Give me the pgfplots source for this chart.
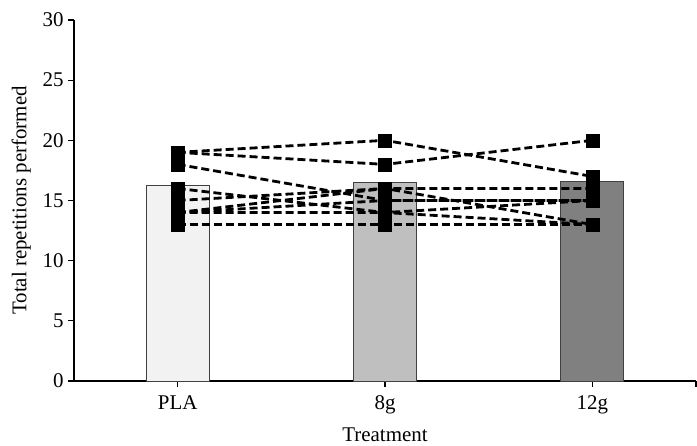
\documentclass[border=0pt]{standalone}
\usepackage{pgfplots}
\pgfplotsset{compat=1.18}
\usepackage{fontspec}
\setmainfont{Liberation Serif}

\definecolor{barPLA}{HTML}{F2F2F2}
\definecolor{barEight}{HTML}{BFBFBF}
\definecolor{barTwelve}{HTML}{808080}
\definecolor{barEdge}{HTML}{404040}

\begin{document}
\begin{tikzpicture}
\begin{axis}[
  at={(0,0)}, anchor=south west,
  scale only axis,
  width=622bp, height=361bp,
  xmin=-0.5, xmax=2.5,
  ymin=0, ymax=30,
  axis lines*=left,
  axis line style={line width=1.2pt},
  xtick={0,1,2},
  xticklabels={PLA,8g,12g},
  extra x ticks={2.5},
  extra x tick labels={},
  ytick={0,5,...,30},
  tick align=outside,
  tick style={black, line width=1.2pt},
  major tick length=6bp,
  /pgf/number format/assume math mode=true,
  ticklabel style={font=\fontsize{21}{25}\selectfont},
  label style={font=\fontsize{21}{25}\selectfont},
  xlabel={Treatment},
  ylabel={Total repetitions performed},
  xticklabel style={yshift=-5bp},
  yticklabel style={xshift=-1bp},
  xlabel style={yshift=5bp},
  ylabel style={yshift=5bp},
  clip=false,
]
% group means
\addplot[ybar, bar width=63bp, bar shift=0pt, fill=barPLA, draw=barEdge, line width=0.8pt,
  error bars/.cd, y dir=minus, y explicit, error bar style={gray, line width=0.8pt}, error mark options={rotate=90, mark size=4bp, gray}]
  coordinates {(0,16.25) -= (0,2.3)};
\addplot[ybar, bar width=63bp, bar shift=0pt, fill=barEight, draw=barEdge, line width=0.8pt,
  error bars/.cd, y dir=minus, y explicit, error bar style={gray, line width=0.8pt}, error mark options={rotate=90, mark size=4bp, gray}]
  coordinates {(1,16.5) -= (0,2.3)};
\addplot[ybar, bar width=63bp, bar shift=0pt, fill=barTwelve, draw=barEdge, line width=0.8pt,
  error bars/.cd, y dir=minus, y explicit, error bar style={gray, line width=0.8pt}, error mark options={rotate=90, mark size=4bp, gray}]
  coordinates {(2,16.6) -= (0,2.3)};

% individual participants
\tikzset{indiv/.style={black, line width=2.8bp, dash pattern=on 8bp off 4bp,
  mark=square*, mark size=6.5bp, mark options={solid, fill=black, line width=0.4bp}}}
\addplot[indiv] coordinates {(0,19) (1,20) (2,17)};
\addplot[indiv] coordinates {(0,19) (1,18) (2,20)};
\addplot[indiv] coordinates {(0,18) (1,15) (2,15)};
\addplot[indiv] coordinates {(0,15) (1,16) (2,16)};
\addplot[indiv] coordinates {(0,16) (1,14) (2,15)};
\addplot[indiv] coordinates {(0,14) (1,16) (2,13)};
\addplot[indiv] coordinates {(0,14) (1,15) (2,15)};
\addplot[indiv] coordinates {(0,13) (1,13) (2,13)};
\addplot[indiv] coordinates {(0,14) (1,14) (2,13)};
\end{axis}
\pgfresetboundingbox
\path[use as bounding box] (-74bp,-65bp) rectangle (623bp,381bp);
\end{tikzpicture}
\end{document}
